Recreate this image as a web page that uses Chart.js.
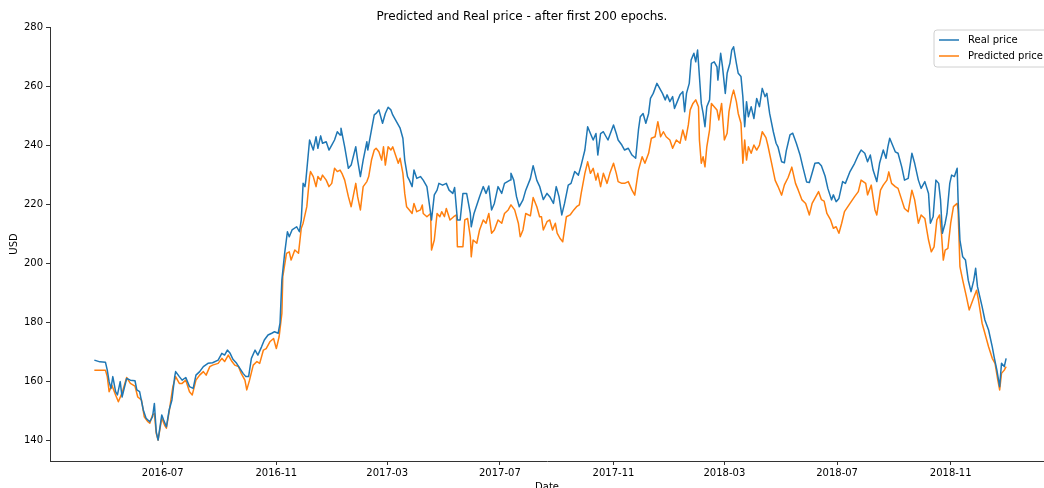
<!DOCTYPE html>
<html>
<head>
<meta charset="utf-8">
<script src="https://cdn.jsdelivr.net/npm/chart.js@4.4.1/dist/chart.umd.min.js"></script>
<style>
html, body { margin: 0; padding: 0; background: #fff; }
#wrap { width: 1044px; height: 488px; }
</style>
</head>
<body>
<div id="wrap"><canvas id="chart" width="1044" height="488"></canvas></div>
<script>
// Real price
var realDates = [
	'2016-04-18','2016-04-24','2016-04-30','2016-05-02','2016-05-04','2016-05-06','2016-05-08','2016-05-11','2016-05-13','2016-05-16',
	'2016-05-18','2016-05-23','2016-05-27','2016-06-01','2016-06-03','2016-06-06','2016-06-10','2016-06-13','2016-06-17','2016-06-20',
	'2016-06-22','2016-06-24','2016-06-26','2016-06-30','2016-07-02','2016-07-05','2016-07-08','2016-07-11','2016-07-14','2016-07-15',
	'2016-07-19','2016-07-22','2016-07-26','2016-07-30','2016-08-03','2016-08-06','2016-08-10','2016-08-14','2016-08-19','2016-08-24',
	'2016-08-30','2016-09-03','2016-09-06','2016-09-09','2016-09-12','2016-09-15','2016-09-19','2016-09-26','2016-09-29','2016-10-02',
	'2016-10-05','2016-10-09','2016-10-12','2016-10-16','2016-10-19','2016-10-23','2016-10-27','2016-10-30','2016-11-03','2016-11-05',
	'2016-11-07','2016-11-10','2016-11-13','2016-11-15','2016-11-18','2016-11-23','2016-11-26','2016-11-28','2016-11-30','2016-12-02',
	'2016-12-03','2016-12-07','2016-12-11','2016-12-14','2016-12-16','2016-12-19','2016-12-21','2016-12-25','2016-12-28','2016-12-31',
	'2017-01-03','2017-01-06','2017-01-09','2017-01-10','2017-01-14','2017-01-18','2017-01-21','2017-01-26','2017-01-28','2017-01-31',
	'2017-02-03','2017-02-07','2017-02-08','2017-02-12','2017-02-15','2017-02-17','2017-02-20','2017-02-23','2017-02-24','2017-02-27',
	'2017-03-02','2017-03-05','2017-03-07','2017-03-10','2017-03-15','2017-03-18','2017-03-20','2017-03-23','2017-03-25','2017-03-28',
	'2017-03-30','2017-04-02','2017-04-06','2017-04-09','2017-04-13','2017-04-18','2017-04-21','2017-04-24','2017-04-26','2017-04-30',
	'2017-05-04','2017-05-07','2017-05-11','2017-05-13','2017-05-16','2017-05-19','2017-05-22','2017-05-26','2017-05-30','2017-05-31',
	'2017-06-03','2017-06-09','2017-06-13','2017-06-16','2017-06-19','2017-06-22','2017-06-25','2017-06-29','2017-07-03','2017-07-06',
	'2017-07-12','2017-07-13','2017-07-16','2017-07-19','2017-07-22','2017-07-26','2017-07-29','2017-08-03','2017-08-06','2017-08-10',
	'2017-08-13','2017-08-17','2017-08-21','2017-08-24','2017-08-28','2017-08-31','2017-09-03','2017-09-06','2017-09-09','2017-09-13',
	'2017-09-16','2017-09-20','2017-09-24','2017-09-27','2017-10-01','2017-10-04','2017-10-07','2017-10-10','2017-10-13','2017-10-15',
	'2017-10-18','2017-10-21','2017-10-24','2017-10-26','2017-11-01','2017-11-04','2017-11-06','2017-11-10','2017-11-13','2017-11-17',
	'2017-11-21','2017-11-25','2017-11-28','2017-11-30','2017-12-03','2017-12-06','2017-12-09','2017-12-11','2017-12-14','2017-12-16',
	'2017-12-18','2017-12-21','2017-12-24','2017-12-27','2017-12-29','2018-01-01','2018-01-04','2018-01-06','2018-01-09','2018-01-12',
	'2018-01-15','2018-01-17','2018-01-19','2018-01-22','2018-01-24','2018-01-27','2018-01-29','2018-01-31','2018-02-02','2018-02-04',
	'2018-02-06','2018-02-08','2018-02-10','2018-02-13','2018-02-15','2018-02-18','2018-02-21','2018-02-22','2018-02-25','2018-02-27',
	'2018-03-02','2018-03-04','2018-03-07','2018-03-09','2018-03-11','2018-03-14','2018-03-16','2018-03-19','2018-03-21','2018-03-23',
	'2018-03-25','2018-03-27','2018-03-30','2018-04-02','2018-04-05','2018-04-08','2018-04-11','2018-04-14','2018-04-16','2018-04-19',
	'2018-04-23','2018-04-26','2018-04-28','2018-05-02','2018-05-05','2018-05-07','2018-05-11','2018-05-14','2018-05-18','2018-05-22',
	'2018-05-25','2018-05-29','2018-06-01','2018-06-04','2018-06-07','2018-06-11','2018-06-14','2018-06-18','2018-06-21','2018-06-25',
	'2018-06-27','2018-06-30','2018-07-03','2018-07-07','2018-07-10','2018-07-15','2018-07-20','2018-07-24','2018-07-27','2018-07-31',
	'2018-08-03','2018-08-06','2018-08-09','2018-08-13','2018-08-16','2018-08-20','2018-08-23','2018-08-25','2018-08-27','2018-08-30',
	'2018-09-02','2018-09-05','2018-09-09','2018-09-12','2018-09-16','2018-09-20','2018-09-23','2018-09-27','2018-09-30','2018-10-04',
	'2018-10-08','2018-10-10','2018-10-13','2018-10-16','2018-10-19','2018-10-21','2018-10-23','2018-10-26','2018-10-28','2018-10-31',
	'2018-11-02','2018-11-05','2018-11-08','2018-11-09','2018-11-11','2018-11-14','2018-11-17','2018-11-20','2018-11-23','2018-11-26',
	'2018-11-28','2018-11-30','2018-12-05','2018-12-08','2018-12-12','2018-12-16','2018-12-18','2018-12-21','2018-12-24','2018-12-26',
	'2018-12-29','2018-12-31'
];
var realPrice = [
	167.1,166.5,166.4,163.7,159.8,157.5,161.5,156.4,155.3,159.8,
	154.6,160.9,160.3,160.1,157.0,156.4,150.2,147.4,146.2,147.9,
	152.4,142.8,140.0,148.5,146.8,144.5,150.2,153.6,161.5,163.2,
	161.5,160.3,161.2,158.1,157.5,162.0,163.2,164.9,166.0,166.2,
	167.1,169.4,168.8,170.5,169.4,167.4,166.0,162.6,161.5,161.5,
	167.7,170.5,168.8,171.6,173.9,175.6,176.2,176.7,176.2,179.6,
	194.2,203.3,210.6,208.9,211.2,212.3,210.6,214.6,227.0,225.9,
	228.1,241.7,238.3,242.8,238.9,243.1,240.6,241.1,238.3,240.0,
	241.7,244.5,243.4,245.7,239.4,232.1,233.2,239.4,234.9,229.3,
	234.9,241.1,238.3,245.1,250.2,250.7,251.9,248.5,247.4,250.7,
	252.8,251.9,250.2,248.5,245.7,242.3,234.9,229.3,228.1,225.9,
	231.5,228.7,229.3,228.1,225.9,214.6,223.1,224.7,227.0,226.4,
	227.0,224.7,223.6,225.6,214.6,214.6,223.6,223.6,216.8,212.3,
	216.8,222.5,225.9,223.6,226.1,218.0,220.2,225.9,223.6,227.0,
	228.1,230.4,228.1,222.5,219.1,221.4,224.7,228.6,233.0,228.0,
	226.0,221.5,223.6,222.5,220.2,225.9,222.5,216.3,220.2,226.4,
	227.0,231.0,229.8,233.2,238.3,246.2,243.9,241.7,243.9,236.6,
	243.9,244.5,242.8,241.7,246.8,243.9,241.7,240.0,238.3,238.9,
	236.6,235.5,245.1,249.6,250.7,247.4,250.7,255.8,257.5,259.2,
	260.9,259.2,257.5,255.3,257.0,254.7,256.4,252.4,254.7,257.0,
	258.1,251.3,257.5,260.9,268.8,271.1,268.2,272.2,263.2,254.1,
	250.7,246.2,253.0,255.3,267.7,268.2,266.5,262.0,271.1,266.5,
	257.5,264.3,267.7,272.2,273.3,267.7,264.3,263.2,256.4,246.2,
	254.7,249.6,253.0,249.0,255.8,253.0,259.2,256.4,257.5,250.7,
	244.5,240.6,239.4,234.3,234.0,238.0,243.4,244.0,240.5,236.5,
	232.5,227.5,227.3,230.5,233.8,234.0,233.0,229.5,225.3,221.4,
	223.1,220.8,221.9,227.6,227.0,231.0,233.8,236.6,238.3,237.2,
	234.3,236.6,231.5,227.6,233.8,238.3,235.5,239.4,242.3,240.0,
	237.7,237.2,232.6,228.1,228.7,237.2,233.8,228.1,225.3,227.6,
	223.6,213.5,215.7,228.1,227.0,221.4,210.1,213.5,216.8,227.0,
	229.8,229.3,232.1,221.4,207.8,202.1,201.0,194.2,190.3,194.2,
	198.2,192.0,185.2,180.7,177.3,171.6,168.2,163.7,158.1,166.0,
	164.9,167.7
];

// Predicted price
var predDates = [
	'2016-04-18','2016-04-30','2016-05-02','2016-05-04','2016-05-07','2016-05-11','2016-05-14','2016-05-18','2016-05-23','2016-05-27',
	'2016-06-01','2016-06-04','2016-06-08','2016-06-11','2016-06-15','2016-06-17','2016-06-20','2016-06-22','2016-06-24','2016-06-26',
	'2016-06-30','2016-07-03','2016-07-05','2016-07-08','2016-07-12','2016-07-15','2016-07-19','2016-07-22','2016-07-26','2016-07-30',
	'2016-08-02','2016-08-06','2016-08-10','2016-08-14','2016-08-17','2016-08-21','2016-08-24','2016-08-30','2016-09-03','2016-09-06',
	'2016-09-10','2016-09-14','2016-09-17','2016-09-21','2016-09-24','2016-09-28','2016-09-30','2016-10-03','2016-10-07','2016-10-11',
	'2016-10-14','2016-10-18','2016-10-21','2016-10-25','2016-10-29','2016-11-01','2016-11-04','2016-11-07','2016-11-08','2016-11-12',
	'2016-11-15','2016-11-17','2016-11-21','2016-11-25','2016-11-28','2016-11-30','2016-12-04','2016-12-07','2016-12-08','2016-12-11',
	'2016-12-14','2016-12-16','2016-12-19','2016-12-21','2016-12-25','2016-12-28','2016-12-31','2017-01-03','2017-01-06','2017-01-09',
	'2017-01-11','2017-01-14','2017-01-18','2017-01-21','2017-01-26','2017-01-28','2017-01-31','2017-02-03','2017-02-07','2017-02-09',
	'2017-02-12','2017-02-15','2017-02-17','2017-02-20','2017-02-23','2017-02-25','2017-02-27','2017-03-02','2017-03-05','2017-03-07',
	'2017-03-10','2017-03-13','2017-03-15','2017-03-18','2017-03-20','2017-03-22','2017-03-25','2017-03-28','2017-03-30','2017-04-02',
	'2017-04-06','2017-04-08','2017-04-09','2017-04-13','2017-04-17','2017-04-18','2017-04-21','2017-04-24','2017-04-27','2017-04-29',
	'2017-05-02','2017-05-04','2017-05-08','2017-05-12','2017-05-15','2017-05-16','2017-05-22','2017-05-24','2017-05-27','2017-05-30',
	'2017-05-31','2017-06-02','2017-06-06','2017-06-09','2017-06-13','2017-06-16','2017-06-19','2017-06-22','2017-06-25','2017-06-29',
	'2017-07-03','2017-07-06','2017-07-10','2017-07-13','2017-07-17','2017-07-21','2017-07-23','2017-07-26','2017-07-29','2017-08-03',
	'2017-08-06','2017-08-10','2017-08-13','2017-08-15','2017-08-17','2017-08-21','2017-08-24','2017-08-27','2017-08-30','2017-09-01',
	'2017-09-04','2017-09-07','2017-09-11','2017-09-15','2017-09-19','2017-09-22','2017-09-25','2017-09-27','2017-10-01','2017-10-04',
	'2017-10-07','2017-10-10','2017-10-13','2017-10-15','2017-10-18','2017-10-21','2017-10-25','2017-10-28','2017-11-01','2017-11-04',
	'2017-11-06','2017-11-10','2017-11-13','2017-11-17','2017-11-21','2017-11-24','2017-11-28','2017-12-02','2017-12-05','2017-12-09',
	'2017-12-12','2017-12-16','2017-12-19','2017-12-22','2017-12-25','2017-12-28','2018-01-01','2018-01-04','2018-01-08','2018-01-12',
	'2018-01-15','2018-01-18','2018-01-21','2018-01-23','2018-01-26','2018-01-29','2018-02-01','2018-02-02','2018-02-04','2018-02-06',
	'2018-02-08','2018-02-10','2018-02-13','2018-02-15','2018-02-18','2018-02-21','2018-02-23','2018-02-26','2018-03-01','2018-03-04',
	'2018-03-06','2018-03-09','2018-03-11','2018-03-14','2018-03-16','2018-03-19','2018-03-21','2018-03-23','2018-03-25','2018-03-27',
	'2018-03-30','2018-04-02','2018-04-05','2018-04-08','2018-04-11','2018-04-15','2018-04-17','2018-04-21','2018-04-25','2018-04-28',
	'2018-05-02','2018-05-05','2018-05-09','2018-05-13','2018-05-17','2018-05-20','2018-05-24','2018-05-28','2018-06-01','2018-06-04',
	'2018-06-08','2018-06-11','2018-06-14','2018-06-17','2018-06-20','2018-06-24','2018-06-27','2018-06-30','2018-07-03','2018-07-06',
	'2018-07-09','2018-07-15','2018-07-20','2018-07-24','2018-07-27','2018-08-01','2018-08-03','2018-08-07','2018-08-11','2018-08-13',
	'2018-08-17','2018-08-20','2018-08-24','2018-08-26','2018-08-29','2018-09-02','2018-09-05','2018-09-09','2018-09-12','2018-09-16',
	'2018-09-20','2018-09-23','2018-09-27','2018-09-30','2018-10-04','2018-10-08','2018-10-11','2018-10-14','2018-10-17','2018-10-20',
	'2018-10-22','2018-10-24','2018-10-26','2018-10-29','2018-11-01','2018-11-04','2018-11-08','2018-11-09','2018-11-11','2018-11-14',
	'2018-11-18','2018-11-21','2018-11-25','2018-11-29','2018-12-01','2018-12-05','2018-12-08','2018-12-12','2018-12-16','2018-12-19',
	'2018-12-22','2018-12-24','2018-12-26','2018-12-29','2018-12-31'
];
var predPrice = [
	163.7,163.7,161.5,156.4,158.6,155.3,153.0,156.0,161.2,159.2,
	158.3,154.6,153.6,147.9,146.2,145.7,148.5,149.0,142.3,140.0,
	147.4,145.1,144.0,149.6,158.1,161.5,159.2,159.2,160.3,156.4,
	155.3,160.3,162.0,163.2,162.0,164.9,165.4,166.0,167.7,166.6,
	168.8,166.6,165.4,164.9,162.6,160.3,157.0,160.3,165.4,166.6,
	166.0,170.5,171.0,173.3,174.4,171.0,175.0,182.9,195.4,203.3,
	203.8,201.0,204.4,203.3,211.8,213.5,219.1,229.3,231.0,229.3,
	225.9,229.3,228.1,229.8,228.1,225.9,227.0,232.1,231.0,231.5,
	230.4,228.1,222.5,219.1,227.0,222.5,218.0,225.9,227.6,229.3,
	234.9,238.3,238.9,237.7,234.9,239.4,233.2,239.4,238.3,239.4,
	236.6,233.8,235.5,230.4,223.6,219.1,218.0,216.8,220.2,217.4,
	218.0,219.7,216.8,215.7,216.8,204.4,207.8,216.8,215.7,217.4,
	215.7,218.5,214.6,215.7,216.3,205.5,205.5,214.6,215.1,208.9,
	202.1,207.8,206.7,211.2,214.6,213.5,216.8,210.1,211.2,214.6,
	213.5,216.8,218.0,219.7,218.0,213.5,208.9,211.2,216.8,216.0,
	222.2,219.1,215.7,215.7,211.2,214.0,214.6,211.2,213.5,210.1,
	208.4,207.2,215.7,216.3,218.0,219.1,219.7,223.6,230.4,234.3,
	230.4,232.1,228.1,230.4,225.9,230.4,227.0,230.4,233.8,230.4,
	227.6,227.0,227.0,227.6,224.7,223.0,231.5,236.0,233.8,237.2,
	242.3,242.8,247.9,242.8,244.5,242.8,241.7,238.9,241.7,240.6,
	245.1,241.7,246.8,251.9,254.1,255.3,253.0,241.7,233.8,236.0,
	232.6,239.4,245.1,254.1,253.0,251.9,248.5,254.1,241.7,244.0,
	251.3,256.4,258.6,254.7,250.7,247.4,233.8,241.7,234.9,239.4,
	237.2,240.0,238.3,240.0,244.5,242.5,240.0,234.0,228.0,226.0,
	223.0,226.5,229.0,232.5,227.0,224.7,221.4,220.2,216.3,220.2,
	222.5,224.2,221.5,221.0,216.8,214.6,211.8,212.3,210.1,213.5,
	217.4,220.2,222.5,224.2,228.1,227.0,223.1,226.4,218.0,216.3,
	224.7,226.4,228.1,230.9,227.0,225.9,225.3,221.4,218.5,217.4,
	224.7,221.4,213.5,216.3,215.1,207.8,203.8,205.5,214.6,216.3,
	210.1,201.0,204.4,205.0,213.5,219.1,220.2,218.0,198.8,194.2,
	188.6,184.1,187.5,190.8,187.5,179.6,176.2,171.6,167.7,166.0,
	160.3,157.0,162.6,163.7,164.9
];

// Axis
var xMin = '2016-03-01';
var xMax = '2019-02-10';
var xTicks = ['2016-07-01', '2016-11-01', '2017-03-01', '2017-07-01', '2017-11-01', '2018-03-01', '2018-07-01', '2018-11-01'];
var yTicks = [140, 160, 180, 200, 220, 240, 260, 280];
var yMin = 132.9;
var yMax = 280;

function toTime( s ) {
	return Date.parse( s + 'T00:00:00Z' );
}

function pairs( dates, values ) {
	var out = [];
	for( var i = 0; i < dates.length; i++ ) {
		out.push({ x: toTime( dates[i] ), y: values[i] });
	}
	return out;
}

function pad2( n ) {
	return n < 10 ? '0' + n : '' + n;
}

var FONT = 'DejaVu Sans';
var AXIS_COLOR = '#333333';

// legend with a frame, drawn inside the plot (top right)
var frameLegend = {
	id: 'frameLegend',
	afterDraw: function( chart ) {
		var ctx = chart.ctx;
		var area = chart.chartArea;
		var x0 = area.right - 110;
		var y0 = area.top + 3;
		ctx.save();
		ctx.beginPath();
		ctx.roundRect( x0, y0, 120, 37, 3 );
		ctx.fillStyle = 'rgba(255,255,255,0.8)';
		ctx.fill();
		ctx.strokeStyle = '#d0d0d0';
		ctx.lineWidth = 1;
		ctx.stroke();
		ctx.font = '10px "' + FONT + '"';
		ctx.textBaseline = 'middle';
		chart.data.datasets.forEach( function( ds, i ) {
			var y = y0 + 10 + i * 16;
			ctx.strokeStyle = ds.borderColor;
			ctx.lineWidth = 1.5;
			ctx.beginPath();
			ctx.moveTo( x0 + 5, y );
			ctx.lineTo( x0 + 25, y );
			ctx.stroke();
			ctx.fillStyle = '#000';
			ctx.fillText( ds.label, x0 + 34, y );
		});
		ctx.restore();
	}
};

var ctx = document.getElementById('chart').getContext('2d');
var chart = new Chart( ctx, {
	type: 'line',
	data: {
		datasets: [{
			label: 'Real price',
			data: pairs( realDates, realPrice ),
			borderColor: '#1f77b4',
			borderWidth: 1.5,
			borderJoinStyle: 'round',
			pointRadius: 0,
			fill: false,
			tension: 0
		}, {
			label: 'Predicted price',
			data: pairs( predDates, predPrice ),
			borderColor: '#ff7f0e',
			borderWidth: 1.5,
			borderJoinStyle: 'round',
			pointRadius: 0,
			fill: false,
			tension: 0
		}]
	},
	options: {
		responsive: false,
		animation: false,
		devicePixelRatio: 1,
		layout: { padding: { left: 0, right: 0, top: 0, bottom: 0 } },
		plugins: {
			legend: { display: false },
			tooltip: { enabled: false },
			title: {
				display: true,
				text: 'Predicted and Real price - after first 200 epochs.',
				color: '#000',
				font: { family: FONT, size: 12, weight: 'normal' },
				padding: { top: 10, bottom: 2.6 }
			}
		},
		scales: {
			x: {
				type: 'linear',
				min: toTime( xMin ),
				max: toTime( xMax ),
				afterBuildTicks: function( axis ) {
					axis.ticks = xTicks.map( function( d ) { return { value: toTime( d ) }; } );
				},
				afterFit: function( axis ) { axis.height = 27; },
				ticks: {
					autoSkip: false,
					maxRotation: 0,
					padding: 2,
					color: '#000',
					font: { family: FONT, size: 10 },
					callback: function( v ) {
						var d = new Date( v );
						return d.getUTCFullYear() + '-' + pad2( d.getUTCMonth() + 1 );
					}
				},
				grid: { display: true, drawOnChartArea: false, drawTicks: true, tickLength: 4, color: AXIS_COLOR },
				border: { display: true, color: AXIS_COLOR, width: 1 },
				title: {
					display: true,
					text: 'Date',
					color: '#000',
					font: { family: FONT, size: 10 },
					padding: { top: 0, bottom: -5 }
				}
			},
			y: {
				type: 'linear',
				min: yMin,
				max: yMax,
				afterBuildTicks: function( axis ) {
					axis.ticks = yTicks.map( function( v ) { return { value: v }; } );
				},
				afterFit: function( axis ) { axis.width = 50; },
				ticks: {
					padding: 3,
					color: '#000',
					font: { family: FONT, size: 10 }
				},
				grid: { display: true, drawOnChartArea: false, drawTicks: true, tickLength: 4, color: AXIS_COLOR },
				border: { display: true, color: AXIS_COLOR, width: 1 },
				title: {
					display: true,
					text: 'USD',
					color: '#000',
					font: { family: FONT, size: 10 },
					padding: { top: 8, bottom: 0 }
				}
			}
		}
	},
	plugins: [ frameLegend ]
});
</script>
</body>
</html>
